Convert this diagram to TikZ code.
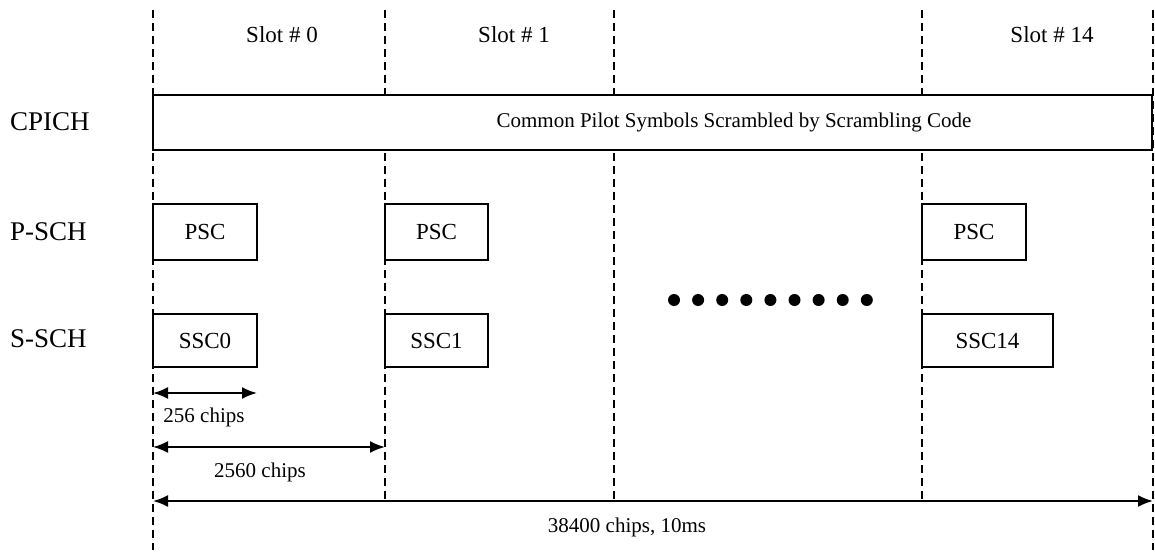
\documentclass[tikz,border=0pt]{standalone}
\usepackage{fontspec}
\setmainfont{Liberation Serif}
\usetikzlibrary{arrows.meta}
\begin{document}
\begin{tikzpicture}[x=1pt,y=-1pt,
  slotline/.style={line width=1.8pt, dash pattern=on 8pt off 5pt},
  chbox/.style={draw, line width=2pt, fill=white, inner sep=0pt, font=\fontsize{23}{27}\selectfont},
  chlabel/.style={anchor=west, inner sep=0pt, font=\fontsize{27}{32}\selectfont},
  slotlabel/.style={inner sep=0pt, font=\fontsize{23}{27}\selectfont},
  boxtext/.style={inner sep=0pt, font=\fontsize{21}{25}\selectfont},
  dimtext/.style={inner sep=0pt, font=\fontsize{21}{25}\selectfont},
  dimarrow/.style={line width=2pt, {Latex[length=15pt,width=12pt]}-{Latex[length=15pt,width=12pt]}},
  dotmark/.style={circle, fill=black, inner sep=0pt, minimum size=12pt}]
\useasboundingbox (0,0) rectangle (1155,554);
\fill[white] (0,0) rectangle (1155,554);

% frame boundaries run the full height, slot boundaries stop at the frame arrow
\foreach \n/\x/\y in {a/153/550, b/385/501, c/614/501, d/922/501, e/1153/550} {
  \coordinate (top\n) at (\x,10);
  \coordinate (bot\n) at (\x,\y);
  \draw[slotline] (top\n) -- (bot\n);
}

% slot titles
\node[slotlabel] (slot0) at (282,35) {Slot \# 0};
\node[slotlabel] (slot1) at (514,35) {Slot \# 1};
\node[slotlabel] (slot14) at (1052,35) {Slot \# 14};

% channel names
\node[chlabel] (lcpich) at (10,122) {CPICH};
\node[chlabel] (lpsch) at (10,232) {P-SCH};
\node[chlabel] (lssch) at (10,339) {S-SCH};

% common pilot channel
\node[chbox, minimum width=999pt, minimum height=55pt] (cpich) at (652.5,122.5) {};
\node[boxtext] (cpichtext) at (734,122) {Common Pilot Symbols Scrambled by Scrambling Code};

% primary synchronisation codes
\node[chbox, minimum width=104pt, minimum height=56pt] (psc0) at (205,232) {PSC};
\node[chbox, minimum width=103pt, minimum height=56pt] (psc1) at (436.5,232) {PSC};
\node[chbox, minimum width=104pt, minimum height=56pt] (psc14) at (974,232) {PSC};

% secondary synchronisation codes
\node[chbox, minimum width=104pt, minimum height=53pt] (ssc0) at (205,340.5) {SSC0};
\node[chbox, minimum width=103pt, minimum height=53pt] (ssc1) at (436.5,340.5) {SSC1};
\node[chbox, minimum width=131pt, minimum height=53pt] (ssc14) at (987.5,340.5) {SSC14};

% ellipsis for the omitted slots
\foreach \i in {0,...,8} {
  \node[dotmark] (dot\i) at (674+24.1*\i,300) {};
}

% durations
\coordinate (c1a) at (153,393);
\coordinate (c1b) at (257,393);
\draw[dimarrow] (c1a) -- (c1b);
\node[dimtext] (t1) at (204,417) {256 chips};

\coordinate (c2a) at (153,447);
\coordinate (c2b) at (385,447);
\draw[dimarrow] (c2a) -- (c2b);
\node[dimtext] (t2) at (260,472) {2560 chips};

\coordinate (c3a) at (153,501);
\coordinate (c3b) at (1153,501);
\draw[dimarrow] (c3a) -- (c3b);
\node[dimtext] (t3) at (627,527) {38400 chips, 10ms};
\end{tikzpicture}
\end{document}
